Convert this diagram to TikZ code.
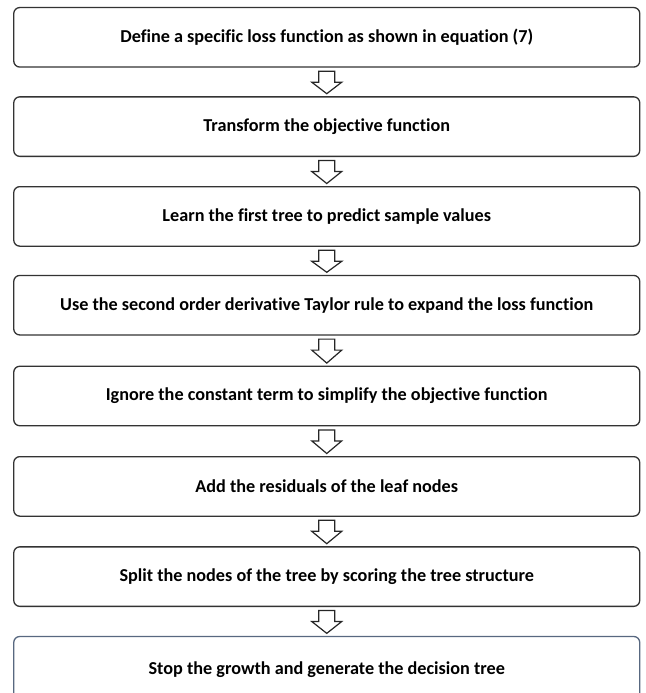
\documentclass[tikz,border=0pt]{standalone}
\usepackage{fontspec}
\setmainfont[RawFeature={-liga;-clig}]{Carlito}
\usetikzlibrary{calc}
\begin{document}
\begin{tikzpicture}[x=1pt,y=1pt,
  flowbox/.style={draw=black!80, line width=1.3pt, rounded corners=6pt,
    minimum width=626pt, minimum height=59.5pt, inner sep=0pt,
    font=\fontsize{18.2}{21}\selectfont\bfseries},
  lastbox/.style={flowbox, minimum height=68pt, draw={rgb,255:red,88;green,104;blue,128}},
  hollow/.style={draw=black!85, line width=1.2pt, fill=white, line join=miter}]
\useasboundingbox (0,0) rectangle (645,-693);
\def\cx{326.75}
\node[flowbox] (b1) at (\cx,-37.3) {Define a specific loss function as shown in equation (7)};
\node[flowbox] (b2) at (\cx,-126.6) {Transform the objective function};
\node[flowbox] (b3) at (\cx,-216.4) {Learn the first tree to predict sample values};
\node[flowbox] (b4) at (\cx,-305.2) {Use the second order derivative Taylor rule to expand the loss function};
\node[flowbox] (b5) at (\cx,-396.0) {Ignore the constant term to simplify the objective function};
\node[flowbox] (b6) at (\cx,-486.4) {Add the residuals of the leaf nodes};
\node[flowbox] (b7) at (\cx,-576.6) {Split the nodes of the tree by scoring the tree structure};
% the last step runs past the lower edge of the page
\node[lastbox] (b8) at (\cx,-670.5) {\raisebox{4.2pt}{Stop the growth and generate the decision tree}};
% hollow block arrows between consecutive steps
\foreach \a/\b in {b1/b2,b2/b3,b3/b4,b4/b5,b5/b6,b6/b7,b7/b8}{
  \draw[hollow] ($(\a.south)+(-8,-3.5)$) -- ($(\a.south)+(8,-3.5)$)
    -- ($(\a.south)+(8,-14.5)$) -- ($(\a.south)+(15,-14.5)$)
    -- ($(\b.north)+(0,2.5)$)
    -- ($(\a.south)+(-15,-14.5)$) -- ($(\a.south)+(-8,-14.5)$) -- cycle;
}
\end{tikzpicture}
\end{document}
